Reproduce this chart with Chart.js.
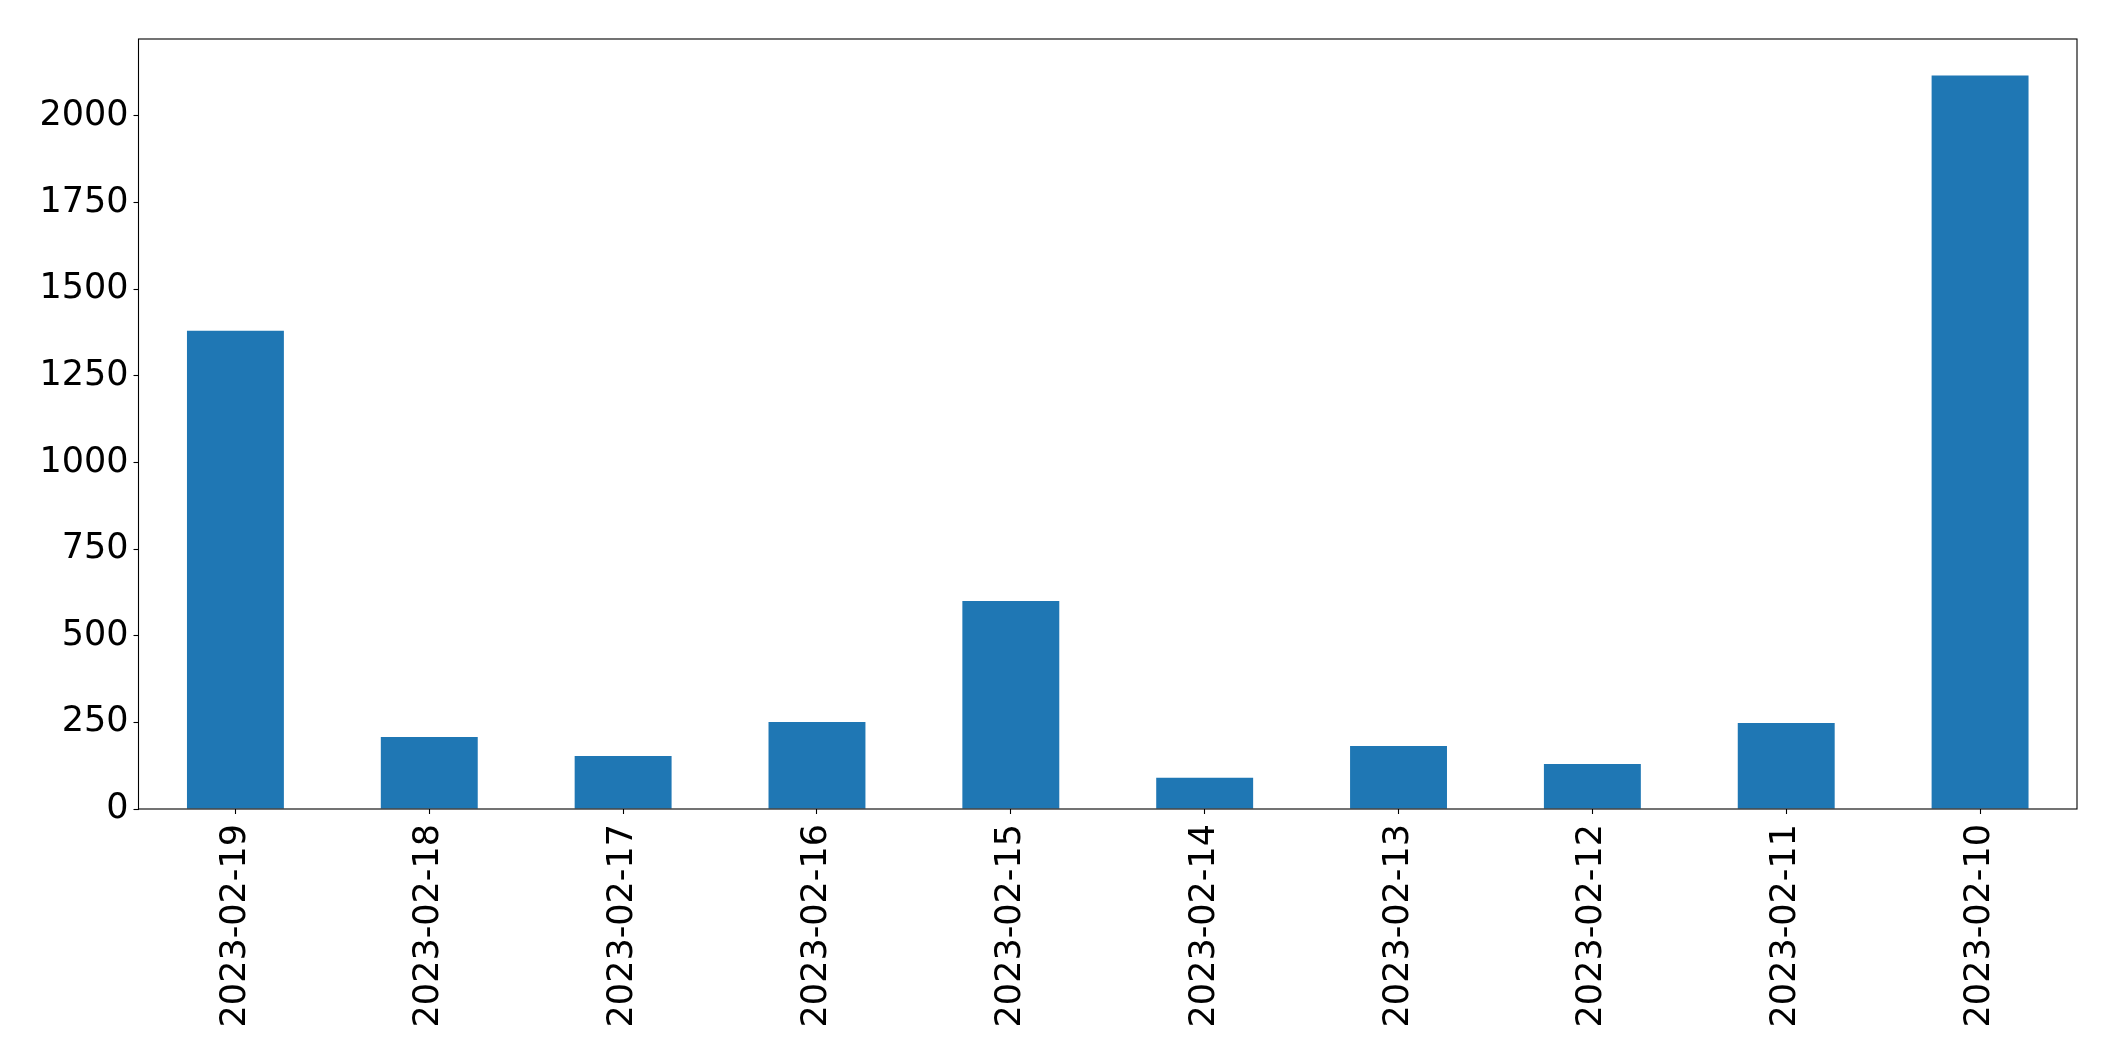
<!DOCTYPE html>
<html>
<head>
<meta charset="utf-8">
<style>
  html, body { margin: 0; padding: 0; background: #ffffff; }
  #wrap { width: 2115px; height: 1061px; }
</style>
<script src="https://cdn.jsdelivr.net/npm/chart.js@4/dist/chart.umd.min.js"></script>
</head>
<body>
<div id="wrap"><canvas id="c" width="2115" height="1061"></canvas></div>
<script>
const categories = ["2023-02-19", "2023-02-18", "2023-02-17", "2023-02-16", "2023-02-15",
                    "2023-02-14", "2023-02-13", "2023-02-12", "2023-02-11", "2023-02-10"];
const values = [1380, 208, 153, 251, 600, 90, 182, 130, 248, 2117];
const yTicks = [0, 250, 500, 750, 1000, 1250, 1500, 1750, 2000];
const yMax = 2222;

const frame = {
  id: 'frame',
  afterDraw(chart) {
    const a = chart.chartArea, ctx = chart.ctx;
    ctx.save();
    ctx.strokeStyle = '#000000';
    ctx.lineWidth = 1.1;
    ctx.strokeRect(a.left, a.top, a.right - a.left, a.bottom - a.top);
    ctx.restore();
  }
};

new Chart(document.getElementById('c'), {
  type: 'bar',
  data: {
    labels: categories,
    datasets: [{
      data: values,
      backgroundColor: '#1f77b4',
      borderWidth: 0,
      barPercentage: 0.5,
      categoryPercentage: 1.0
    }]
  },
  options: {
    responsive: false,
    animation: false,
    devicePixelRatio: 1,
    layout: { padding: { top: 39, right: 38, left: 0, bottom: 0 } },
    plugins: { legend: { display: false }, tooltip: { enabled: false } },
    scales: {
      x: {
        offset: true,
        grid: { display: true, drawOnChartArea: false, offset: false, drawTicks: true,
                tickLength: 5, tickColor: '#000000', tickWidth: 1.1 },
        border: { display: false },
        ticks: { color: '#000000', font: { family: 'DejaVu Sans', size: 35 },
                 minRotation: 90, maxRotation: 90, padding: 10, autoSkip: false },
        afterFit(s) { s.height = 252; }
      },
      y: {
        min: 0,
        max: yMax,
        grid: { display: true, drawOnChartArea: false, drawTicks: true,
                tickLength: 5, tickColor: '#000000', tickWidth: 1.1 },
        border: { display: false },
        ticks: { color: '#000000', font: { family: 'DejaVu Sans', size: 35 }, padding: 5,
                 callback: (v) => String(v) },
        afterBuildTicks(s) { s.ticks = yTicks.map(v => ({ value: v })); },
        afterFit(s) { s.width = 138.5; }
      }
    }
  },
  plugins: [frame]
});
</script>
</body>
</html>
